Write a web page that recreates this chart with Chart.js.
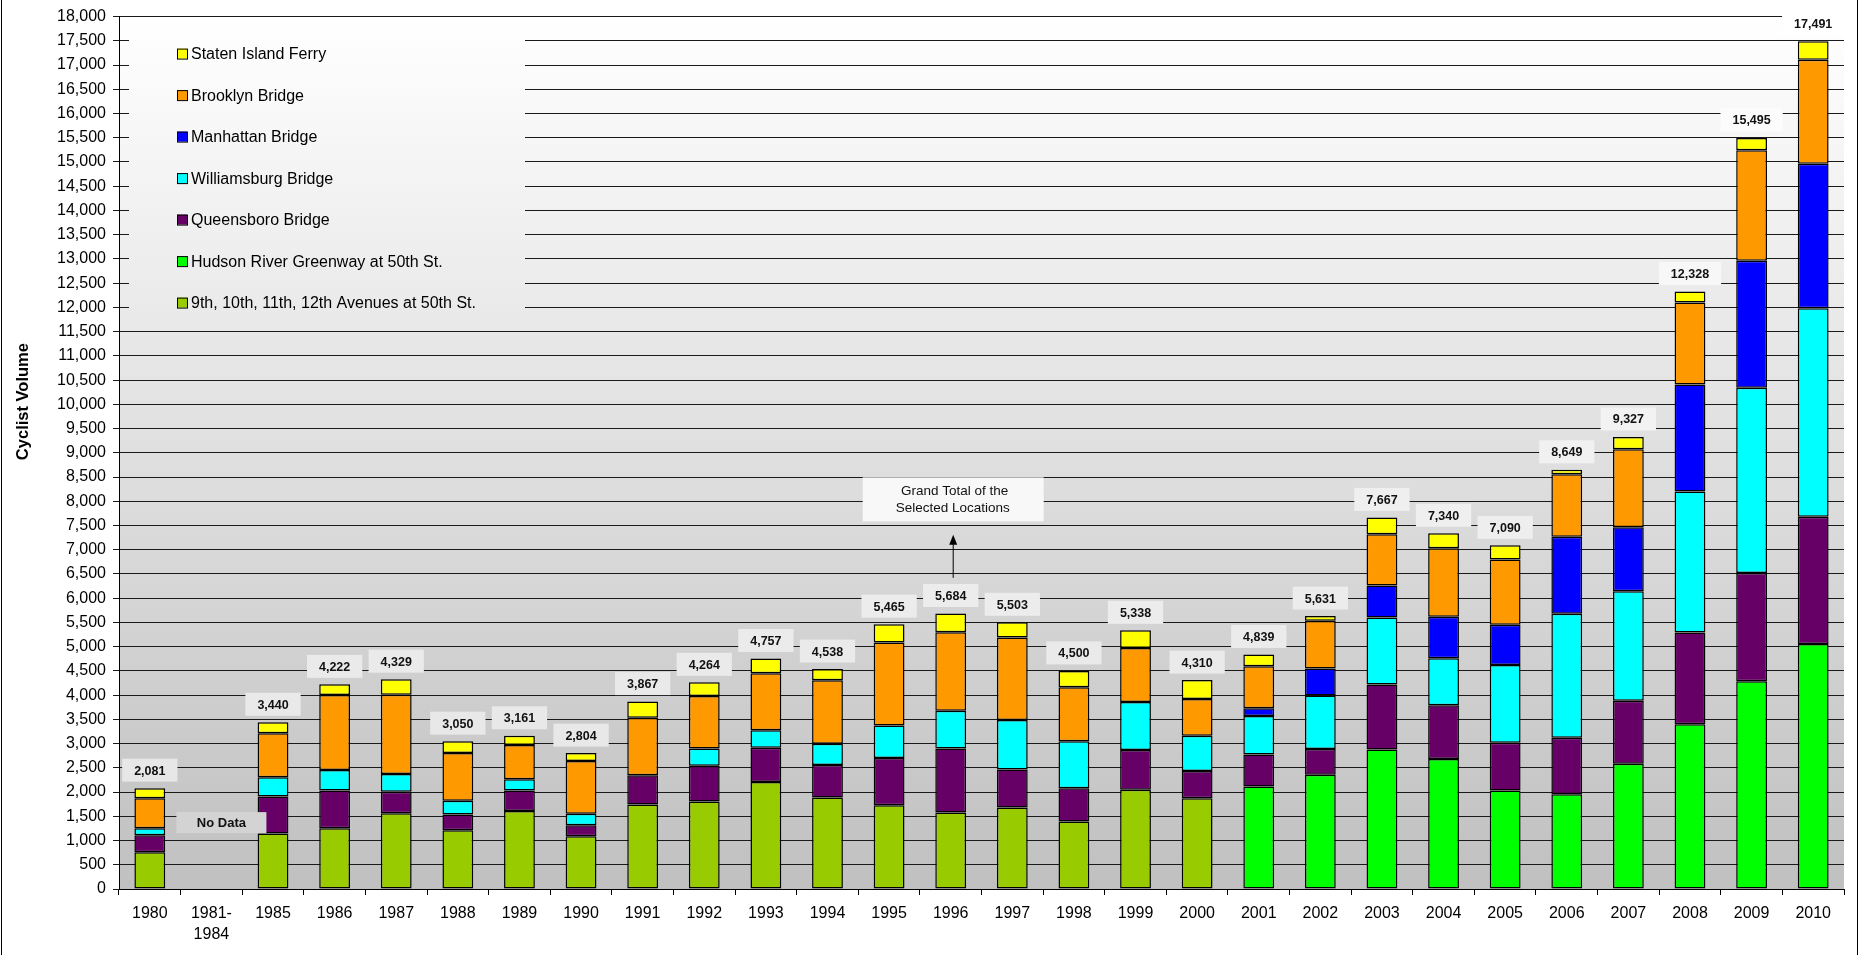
<!DOCTYPE html>
<html>
<head>
<meta charset="utf-8">
<title>Cyclist Volume</title>
<script src="https://cdn.jsdelivr.net/npm/chart.js@4.4.1/dist/chart.umd.min.js"></script>
<style>
    html, body { margin: 0; padding: 0; background: #fff; }
    .wrap { position: relative; width: 1862px; height: 955px; overflow: hidden; }
    .frame { position: absolute; left: 1px; top: -2px; width: 1855px; height: 960px; border-left: 1px solid #000; border-right: 1px solid #000; pointer-events: none; }
    canvas { display: block; }
</style>
</head>
<body>
<div class="wrap">
    <canvas id="chart" width="1862" height="955"></canvas>
    <div class="frame"></div>
</div>
<script>
// Data
const years = ['1980', ['1981-', '1984'], '1985', '1986', '1987', '1988', '1989', '1990', '1991', '1992',
    '1993', '1994', '1995', '1996', '1997', '1998', '1999', '2000', '2001', '2002',
    '2003', '2004', '2005', '2006', '2007', '2008', '2009', '2010'];

const avenues = [759, null, 1143, 1252, 1565, 1210, 1608, 1088, 1744, 1806,
    2207, 1888, 1730, 1580, 1682, 1395, 2046, 1873, null, null,
    null, null, null, null, null, null, null, null];
const hudson = [null, null, null, null, null, null, null, null, null, null,
    null, null, null, null, null, null, null, null, 2113, 2359,
    2879, 2682, 2031, 1955, 2585, 3400, 4288, 5053];
const queensboro = [349, null, 765, 779, 439, 329, 423, 225, 601, 738,
    706, 670, 972, 1319, 786, 683, 821, 562, 663, 528,
    1341, 1108, 985, 1164, 1299, 1893, 2230, 2627];
const williamsburg = [144, null, 396, 425, 370, 281, 234, 240, null, 355,
    364, 438, 669, 780, 1020, 973, 992, 725, 794, 1108,
    1381, 970, 1607, 2558, 2257, 2907, 3823, 4302];
const manhattan = [null, null, null, null, null, null, null, null, null, null,
    null, null, null, null, null, null, null, null, 158, 554,
    663, 856, 828, 1592, 1321, 2209, 2620, 2981];
const brooklyn = [621, null, 911, 1545, 1633, 985, 704, 1088, 1190, 1081,
    1175, 1313, 1717, 1621, 1703, 1114, 1115, 759, 868, 984,
    1054, 1415, 1346, 1287, 1613, 1690, 2283, 2148];
const ferry = [208, null, 225, 221, 322, 245, 192, 163, 332, 284,
    305, 229, 377, 384, 312, 335, 364, 391, 243, 98,
    349, 309, 293, 93, 252, 229, 251, 380];

const yTicks = { min: 0, max: 18000, step: 500 };

// Annotations (value space)
const noDataAt = { index: 1, value: 1380, text: 'No Data' };
const grandTotalNote = { index: 13, boxValue: 8040, arrowFrom: 6420, arrowTo: 7310,
    lines: ['Grand Total of the', 'Selected Locations'] };

const FONT = "'Liberation Sans', Arial, sans-serif";

const series = [
    { label: '9th, 10th, 11th, 12th Avenues at 50th St.', data: avenues, color: '#99cc00' },
    { label: 'Hudson River Greenway at 50th St.', data: hudson, color: '#00ff00' },
    { label: 'Queensboro Bridge', data: queensboro, color: '#660066' },
    { label: 'Williamsburg Bridge', data: williamsburg, color: '#00ffff' },
    { label: 'Manhattan Bridge', data: manhattan, color: '#0000ff' },
    { label: 'Brooklyn Bridge', data: brooklyn, color: '#ff9900' },
    { label: 'Staten Island Ferry', data: ferry, color: '#ffff00' }
];

const totals = years.map((_, i) => series.reduce((s, d) => s + (d.data[i] || 0), 0));

// plot background grey at a given y
function bgGrey(area, y) {
    const t = Math.min(1, Math.max(0, (y - area.top) / (area.bottom - area.top)));
    return 255 - 63 * t;
}
function lighter(area, y, amount) {
    const g = Math.round(bgGrey(area, y) + (255 - bgGrey(area, y)) * amount);
    return `rgb(${g},${g},${g})`;
}

const backgroundPlugin = {
    id: 'plotBackground',
    beforeDraw(chart) {
        const { ctx, chartArea: a } = chart;
        const grad = ctx.createLinearGradient(0, a.top, 0, a.bottom);
        grad.addColorStop(0, '#ffffff');
        grad.addColorStop(1, '#c0c0c0');
        ctx.save();
        ctx.fillStyle = grad;
        ctx.fillRect(a.left, a.top, a.right - a.left, a.bottom - a.top);
        ctx.restore();
    }
};

const legendPlugin = {
    id: 'insideLegend',
    beforeDatasetsDraw(chart) {
        const { ctx, chartArea: a } = chart;
        const x0 = a.left + 10, y0 = a.top + 2, w = 396, h = 304;
        ctx.save();
        const grad = ctx.createLinearGradient(0, y0, 0, y0 + h);
        grad.addColorStop(0, '#ffffff');
        grad.addColorStop(1, '#e9e9e9');
        ctx.fillStyle = grad;
        ctx.fillRect(x0, y0, w, h);
        ctx.font = `16px ${FONT}`;
        ctx.textBaseline = 'middle';
        const items = series.slice().reverse();
        items.forEach((s, i) => {
            const cy = y0 + 35 + i * 41.5;
            ctx.fillStyle = s.color;
            ctx.fillRect(x0 + 48, cy - 5, 10, 10);
            ctx.strokeStyle = '#000';
            ctx.lineWidth = 1;
            ctx.strokeRect(x0 + 48.5, cy - 4.5, 10, 10);
            ctx.fillStyle = '#000';
            ctx.fillText(s.label, x0 + 62, cy + 1);
        });
        ctx.restore();
    }
};

const labelPlugin = {
    id: 'totalLabels',
    afterDatasetsDraw(chart) {
        const { ctx, chartArea: a } = chart;
        const xs = chart.scales.x, ys = chart.scales.y;
        ctx.save();
        ctx.textAlign = 'center';
        ctx.textBaseline = 'middle';

        // grand totals above bars
        ctx.font = `bold 12.5px ${FONT}`;
        totals.forEach((t, i) => {
            if (!t) return;
            const x = xs.getPixelForValue(i);
            const y = ys.getPixelForValue(t) - 18;
            const txt = t.toLocaleString('en-US');
            const bw = ctx.measureText(txt).width + 24, bh = 23;
            ctx.fillStyle = lighter(a, y, 0.55);
            ctx.fillRect(x - bw / 2, y - bh / 2, bw, bh);
            ctx.fillStyle = '#111';
            ctx.fillText(txt, x, y + 1);
        });

        // "No Data" note
        {
            ctx.font = `bold 13px ${FONT}`;
            const x = xs.getPixelForValue(noDataAt.index) + 10;
            const y = ys.getPixelForValue(noDataAt.value);
            ctx.fillStyle = lighter(a, y, 0.25);
            ctx.fillRect(x - 45, y - 10, 90, 21);
            ctx.fillStyle = '#111';
            ctx.fillText(noDataAt.text, x, y + 1);
        }

        // grand total call-out with arrow
        {
            const n = grandTotalNote;
            const x = xs.getPixelForValue(n.index) + 2;
            const by = ys.getPixelForValue(n.boxValue);
            ctx.fillStyle = lighter(a, by, 0.8);
            ctx.fillRect(x - 90, by - 22, 181, 44);
            ctx.font = `13.5px ${FONT}`;
            ctx.fillStyle = '#111';
            ctx.fillText(n.lines[0], x + 2, by - 8);
            ctx.fillText(n.lines[1], x, by + 9);
            const y1 = ys.getPixelForValue(n.arrowFrom), y2 = ys.getPixelForValue(n.arrowTo);
            ctx.strokeStyle = '#000';
            ctx.lineWidth = 1;
            ctx.beginPath();
            ctx.moveTo(x + 0.5, y1);
            ctx.lineTo(x + 0.5, y2 + 8);
            ctx.stroke();
            ctx.fillStyle = '#000';
            ctx.beginPath();
            ctx.moveTo(x + 0.5, y2);
            ctx.lineTo(x - 3.5, y2 + 10);
            ctx.lineTo(x + 4.5, y2 + 10);
            ctx.closePath();
            ctx.fill();
        }

        // y axis title
        ctx.font = `bold 16.5px ${FONT}`;
        ctx.fillStyle = '#000';
        ctx.translate(23, a.top + 385);
        ctx.rotate(-Math.PI / 2);
        ctx.fillText('Cyclist Volume', 0, 0);
        ctx.restore();
    }
};

const ctx = document.getElementById('chart').getContext('2d');
new Chart(ctx, {
    type: 'bar',
    data: {
        labels: years,
        datasets: series.map(s => ({
            label: s.label,
            data: s.data,
            backgroundColor: s.color,
            borderColor: '#000',
            borderWidth: 1.5,
            borderSkipped: false,
            barPercentage: 0.5,
            categoryPercentage: 1.0
        }))
    },
    options: {
        responsive: false,
        animation: false,
        events: [],
        layout: { padding: { left: 0, right: 18, top: 12, bottom: 0 } },
        plugins: { legend: { display: false }, tooltip: { enabled: false } },
        scales: {
            x: {
                stacked: true,
                grid: { offset: true, drawOnChartArea: false, color: '#000', tickLength: 6 },
                border: { display: true, color: '#000', width: 1 },
                ticks: { color: '#000', padding: 8, maxRotation: 0, autoSkip: false,
                    font: { family: FONT, size: 16, lineHeight: 1.3 } },
                afterFit(scale) { scale.height = 66; }
            },
            y: {
                stacked: true,
                min: yTicks.min,
                max: yTicks.max,
                grid: { color: '#1a1a1a', lineWidth: 1, tickLength: 6 },
                border: { display: true, color: '#000', width: 1 },
                ticks: {
                    stepSize: yTicks.step,
                    color: '#000',
                    padding: 7,
                    font: { family: FONT, size: 16 },
                    callback: v => v.toLocaleString('en-US')
                },
                afterFit(scale) { scale.width = 119; }
            }
        }
    },
    plugins: [backgroundPlugin, legendPlugin, labelPlugin]
});
</script>
</body>
</html>
